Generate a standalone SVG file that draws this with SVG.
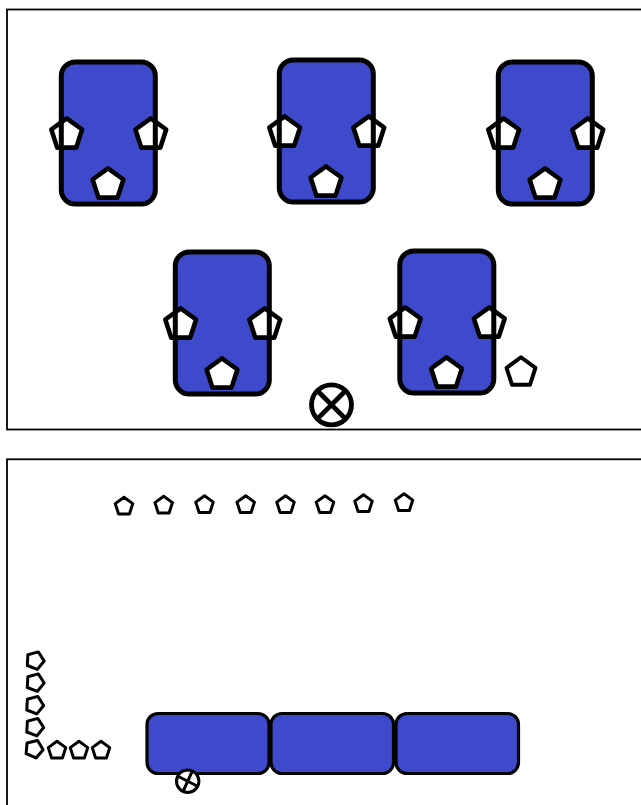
<svg xmlns="http://www.w3.org/2000/svg" width="641" height="805" viewBox="0 0 641 805">
<style>
.frame{fill:none;stroke:#000;stroke-width:1.8}
.body{fill:#3e49cc}
.edge{fill:none;stroke:#000;stroke-width:5}
.p{fill:#fff;stroke:#000;stroke-width:4.6;stroke-linejoin:round}
.p2{fill:#fff;stroke:#000;stroke-width:4.2;stroke-linejoin:round}
.q{fill:#fff;stroke:#000;stroke-width:3;stroke-linejoin:round}
.x{fill:#fff;stroke:#000;stroke-width:4.8}
.xs{fill:#fff;stroke:#000;stroke-width:3}
.long{fill:#3e49cc;stroke:#000;stroke-width:3.2}
</style>
<defs>
<polygon id="pent" points="0,-16.2 15.41,-5.01 9.52,13.11 -9.52,13.11 -15.41,-5.01"/>
<polygon id="pents" points="0,-9.2 8.75,-2.84 5.41,7.44 -5.41,7.44 -8.75,-2.84"/>
<g id="car">
<rect class="body" x="61.3" y="62" width="94" height="142" rx="14"/>
<use href="#pent" class="p" x="66.7" y="134.5"/>
<use href="#pent" class="p" x="150.8" y="134.5"/>
<use href="#pent" class="p" x="108" y="184.5"/>
<rect class="edge" x="61.3" y="62" width="94" height="142" rx="14"/>
</g>
</defs>
<rect class="frame" x="7" y="9.5" width="640" height="420"/>
<rect class="frame" x="7" y="459.3" width="640" height="350"/>
<g id="car1"><use href="#car"/></g>
<g id="car2"><use href="#car" x="218" y="-2"/></g>
<g id="car3"><use href="#car" x="437"/></g>
<g id="car4"><use href="#car" x="114" y="190"/></g>
<g id="car5"><use href="#car" x="338.5" y="189"/></g>
<g id="p-single"><use href="#pent" class="p2" transform="translate(521 372.5) scale(.94)"/></g>
<g id="x-large">
<circle class="x" cx="331.5" cy="404.8" r="20"/>
<path class="x" d="M317.4 390.7L345.6 418.9M345.6 390.7L317.4 418.9"/>
</g>
<g id="top-row">
<use href="#pents" class="q" x="124" y="506.5"/>
<use href="#pents" class="q" x="163.7" y="505.5"/>
<use href="#pents" class="q" x="204.5" y="505"/>
<use href="#pents" class="q" x="245.7" y="505"/>
<use href="#pents" class="q" x="285.5" y="505"/>
<use href="#pents" class="q" x="325" y="505"/>
<use href="#pents" class="q" x="363.5" y="504"/>
<use href="#pents" class="q" x="404" y="503"/>
</g>
<g id="left-col">
<use href="#pents" class="q" transform="translate(35 660.5) rotate(93)"/>
<use href="#pents" class="q" transform="translate(35 682.5) rotate(93)"/>
<use href="#pents" class="q" transform="translate(34.5 705) rotate(93)"/>
<use href="#pents" class="q" transform="translate(34.5 727) rotate(93)"/>
<use href="#pents" class="q" transform="translate(34 749) rotate(95)"/>
</g>
<g id="bottom-row">
<use href="#pents" class="q" x="57" y="750.5"/>
<use href="#pents" class="q" x="79" y="750.5"/>
<use href="#pents" class="q" x="101" y="750.5"/>
</g>
<g id="slot1"><rect class="long" x="147" y="713.5" width="122" height="60" rx="11"/></g>
<g id="slot2"><rect class="long" x="271" y="713.5" width="122.5" height="60" rx="11"/></g>
<g id="slot3"><rect class="long" x="396" y="713.5" width="122.5" height="60" rx="11"/></g>
<g id="x-small">
<circle class="xs" cx="187.7" cy="781.2" r="11.2"/>
<path class="xs" d="M177.5 776L198 786.5M192.5 770.7L183 791.7"/>
</g>
<g id="connectors"/>
</svg>
